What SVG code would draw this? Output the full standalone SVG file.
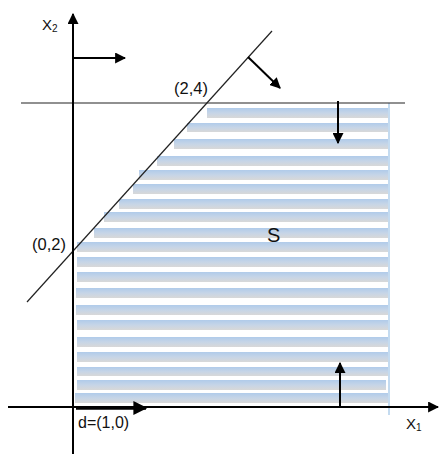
<svg xmlns="http://www.w3.org/2000/svg" width="440" height="454" viewBox="0 0 440 454">
<defs>
<linearGradient id="sg" x1="0" y1="0" x2="0" y2="1">
<stop offset="0" stop-color="#b0cbea"/>
<stop offset="0.5" stop-color="#c6d5e7"/>
<stop offset="1" stop-color="#d8d8d8"/>
</linearGradient>
<marker id="ah" viewBox="0 0 10 10" refX="9" refY="5" markerWidth="5.5" markerHeight="5.5" markerUnits="strokeWidth" orient="auto">
<path d="M0,0 L10,5 L0,10 z" fill="#000"/>
</marker>
<marker id="ah2" viewBox="0 0 10 10" refX="9" refY="5" markerWidth="4" markerHeight="4" markerUnits="strokeWidth" orient="auto">
<path d="M0,0 L10,5 L0,10 z" fill="#000"/>
</marker>
</defs>
<style>
.st{fill:url(#sg)}
.ax{stroke:#000;stroke-width:2;fill:none}
.ln{stroke:#222;stroke-width:1.2;fill:none}
.ar{stroke:#000;stroke-width:2;fill:none}
text{font-family:"Liberation Sans","Open Sans",sans-serif;fill:#111}
</style>
<rect width="440" height="454" fill="#fff"/>
<g id="region-S">
<rect class="st" x="207" y="108" width="181" height="10"/>
<rect class="st" x="187" y="123" width="201" height="9"/>
<rect class="st" x="174" y="139" width="214" height="10"/>
<rect class="st" x="157" y="156" width="231" height="10"/>
<rect class="st" x="139" y="170" width="249" height="10"/>
<rect class="st" x="133" y="184" width="255" height="10"/>
<rect class="st" x="119" y="199" width="269" height="10"/>
<rect class="st" x="104" y="212" width="284" height="10"/>
<rect class="st" x="94" y="228" width="294" height="10"/>
<rect class="st" x="77" y="242" width="311" height="10"/>
<rect class="st" x="77" y="257" width="311" height="10"/>
<rect class="st" x="77" y="272" width="311" height="10"/>
<rect class="st" x="76" y="288" width="312" height="10"/>
<rect class="st" x="76" y="305" width="312" height="10"/>
<rect class="st" x="77" y="320" width="311" height="10"/>
<rect class="st" x="77" y="337" width="311" height="10"/>
<rect class="st" x="77" y="352" width="311" height="10"/>
<rect class="st" x="77" y="367" width="311" height="9"/>
<rect class="st" x="77" y="380" width="309" height="10"/>
<rect class="st" x="75" y="393" width="313" height="10"/>
<line x1="389" y1="103" x2="389" y2="415" stroke="#9dc3e6" stroke-width="1.2"/>
<text x="267" y="242" font-size="20">S</text>
</g>
<g id="constraints">
<line class="ln" x1="21" y1="103" x2="405" y2="103"/>
<line class="ln" x1="27" y1="302" x2="272" y2="31"/>
</g>
<g id="axes">
<line class="ax" x1="73" y1="454" x2="73" y2="14" marker-end="url(#ah)"/>
<line class="ax" x1="8" y1="407" x2="438" y2="407" marker-end="url(#ah)"/>
<text x="42" y="30" font-size="15">X<tspan font-size="10" dy="2">2</tspan></text>
<text x="406" y="429" font-size="15">X<tspan font-size="10" dy="2">1</tspan></text>
</g>
<g id="connectors">
<line class="ar" x1="73" y1="58" x2="125" y2="58" marker-end="url(#ah)"/>
<line class="ar" x1="248" y1="57" x2="280" y2="88" marker-end="url(#ah)"/>
<line class="ar" x1="338" y1="101" x2="338" y2="143" marker-end="url(#ah)"/>
<line class="ar" x1="340" y1="407" x2="340" y2="363" marker-end="url(#ah)"/>
<line x1="76" y1="408" x2="146" y2="408" stroke="#000" stroke-width="3.5" marker-end="url(#ah2)"/>
</g>
<g id="labels">
<text x="174" y="94" font-size="16.5">(2,4)</text>
<text x="32" y="250" font-size="16.5">(0,2)</text>
<text x="78" y="428" font-size="16">d=(1,0)</text>
</g>
</svg>
